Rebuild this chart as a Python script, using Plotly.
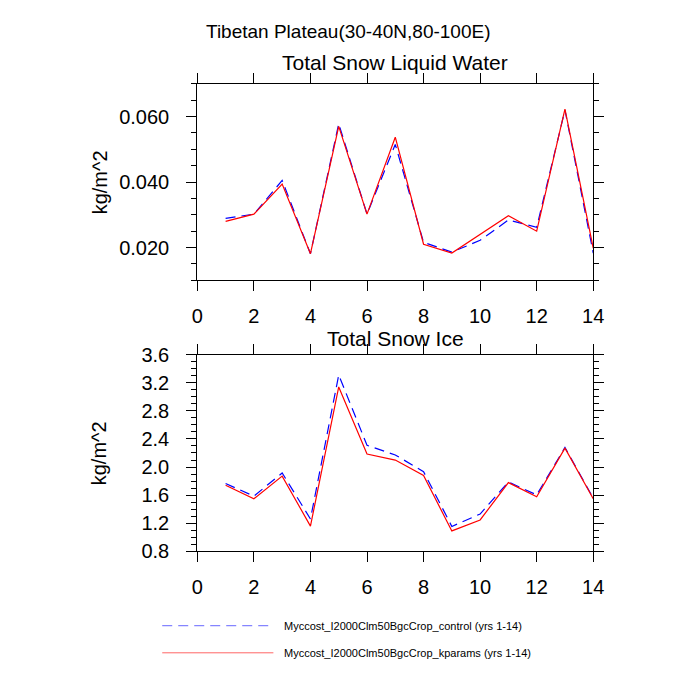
import plotly.graph_objects as go

# ---- data ----
years = list(range(1, 15))
liq_control = [0.0289, 0.0302, 0.0405, 0.0181, 0.0578, 0.0302, 0.0515, 0.0216, 0.0186, 0.0222, 0.0284, 0.0262, 0.0620, 0.0183]
liq_kparams = [0.0280, 0.0302, 0.0394, 0.0181, 0.0570, 0.0302, 0.0537, 0.0210, 0.0183, 0.0240, 0.0297, 0.0250, 0.0623, 0.0198]
ice_control = [1.764, 1.585, 1.915, 1.259, 3.311, 2.310, 2.172, 1.934, 1.153, 1.330, 1.787, 1.603, 2.278, 1.557]
ice_kparams = [1.741, 1.548, 1.870, 1.158, 3.141, 2.186, 2.099, 1.879, 1.089, 1.245, 1.778, 1.576, 2.269, 1.548]

main_title = "Tibetan Plateau(30-40N,80-100E)"
panel_titles = ["Total Snow Liquid Water", "Total Snow Ice"]
y_unit = "kg/m^2"
names = ["Myccost_I2000Clm50BgcCrop_control (yrs 1-14)",
         "Myccost_I2000Clm50BgcCrop_kparams (yrs 1-14)"]

# page has an 8px body margin; size the figure so the page fits the 700x700 window
OFF = 8
W = 684
H = 680
FONT = "Liberation Sans, Arial, Helvetica, sans-serif"
BLUE = "#0000ff"
RED = "#ff0000"

def px(x):  # window pixel -> paper fraction
    return (x - OFF) / W

def py(y):
    return 1 - (y - OFF) / H

fig = go.Figure()

fig.add_trace(go.Scatter(x=years, y=liq_control, mode="lines", xaxis="x", yaxis="y",
                         line=dict(color=BLUE, width=1.2, dash="10px,6px"), showlegend=False))
fig.add_trace(go.Scatter(x=years, y=liq_kparams, mode="lines", xaxis="x", yaxis="y",
                         line=dict(color=RED, width=1.2), showlegend=False))
fig.add_trace(go.Scatter(x=years, y=ice_control, mode="lines", xaxis="x2", yaxis="y2",
                         line=dict(color=BLUE, width=1.2, dash="10px,6px"), showlegend=False))
fig.add_trace(go.Scatter(x=years, y=ice_kparams, mode="lines", xaxis="x2", yaxis="y2",
                         line=dict(color=RED, width=1.2), showlegend=False))

xdom = [px(196), px(602)]
common_x = dict(range=[0, 14], dtick=2, tick0=0, ticks="outside", ticklen=10, tickwidth=1.2,
                tickcolor="#000", showline=True, linecolor="#000", linewidth=1.2, mirror="ticks",
                showgrid=False, zeroline=False, tickfont=dict(size=20, color="#000", family=FONT),
                ticklabelstandoff=8, domain=xdom)
common_y = dict(ticks="outside", ticklen=10, tickwidth=1.2, tickcolor="#000", showline=True,
                linecolor="#000", linewidth=1.2, mirror="ticks", showgrid=False, zeroline=False,
                tickfont=dict(size=20, color="#000", family=FONT), ticklabelstandoff=13)

fig.update_layout(
    width=W, height=H, margin=dict(l=0, r=0, t=0, b=0),
    paper_bgcolor="white", plot_bgcolor="white",
    font=dict(family=FONT, color="#000"),
    xaxis=dict(**common_x, anchor="y"),
    yaxis=dict(**common_y, anchor="x", domain=[py(278), py(75)], range=[0.010, 0.070],
               dtick=0.02, tick0=0, tickformat=".3f",
               minor=dict(dtick=0.005, tick0=0, ticks="outside", ticklen=5, tickwidth=1, tickcolor="#000")),
    xaxis2=dict(**common_x, anchor="y2"),
    yaxis2=dict(**common_y, anchor="x2", domain=[py(558), py(355)], range=[0.8, 3.6],
                dtick=0.4, tick0=0.8, tickformat=".1f",
                minor=dict(dtick=0.1, tick0=0.8, ticks="outside", ticklen=5, tickwidth=1, tickcolor="#000")),
    showlegend=False,
)

ann = []
ann.append(dict(text=main_title, x=px(350), y=py(21), xref="paper", yref="paper",
                showarrow=False, font=dict(size=19, family=FONT, color="#000"),
                xanchor="center", yanchor="middle"))
for t, yc in zip(panel_titles, [53, 338]):
    ann.append(dict(text=t, x=px(399), y=py(yc), xref="paper", yref="paper", showarrow=False,
                    font=dict(size=21, family=FONT, color="#000"), xanchor="center", yanchor="middle"))
for yc in [177, 457]:
    ann.append(dict(text=y_unit, x=px(96), y=py(yc), xref="paper", yref="paper", showarrow=False,
                    textangle=-90, font=dict(size=20, family=FONT, color="#000"),
                    xanchor="center", yanchor="middle"))
for nm, yc in zip(names, [635, 663]):
    ann.append(dict(text=nm, x=px(283), y=py(yc), xref="paper", yref="paper", showarrow=False,
                    font=dict(size=11, family=FONT, color="#000"), xanchor="left", yanchor="middle"))
fig.update_layout(annotations=ann)

fig.add_shape(type="line", xref="paper", yref="paper", x0=px(160), x1=px(274), y0=py(635), y1=py(635),
              line=dict(color="#6666ff", width=1, dash="10px,6px"))
fig.add_shape(type="line", xref="paper", yref="paper", x0=px(160), x1=px(274), y0=py(663), y1=py(663),
              line=dict(color="#ff6666", width=1))

fig.write_html("out.html", config={"displayModeBar": False})
